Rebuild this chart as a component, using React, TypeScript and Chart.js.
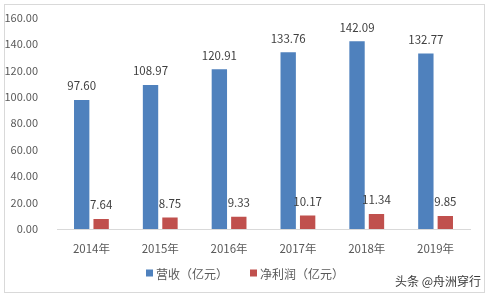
import React, { useEffect, useRef } from "react";
import { Chart, registerables } from "chart.js";

Chart.register(...registerables);

const categories = ["2014年", "2015年", "2016年", "2017年", "2018年", "2019年"];
const revenue = [97.6, 108.97, 120.91, 133.76, 142.09, 132.77];
const profit = [7.64, 8.75, 9.33, 10.17, 11.34, 9.85];
const seriesNames = ["营收（亿元）", "净利润（亿元）"];
const seriesColors = ["#4f81bd", "#c0504d"];
const watermark = "头条 @舟洲穿行";

const FONT = "'Noto Sans CJK SC', 'Noto Sans', sans-serif";

const framePlugin = {
  id: "frame",
  beforeDraw(chart: any) {
    const ctx = chart.ctx;
    ctx.save();
    ctx.fillStyle = "#ffffff";
    ctx.fillRect(0, 0, chart.width, chart.height);
    ctx.strokeStyle = "#d9d9d9";
    ctx.lineWidth = 1;
    ctx.strokeRect(4.5, 4.5, 480, 288);
    ctx.restore();
  },
};

const labelsPlugin = {
  id: "labelsAndLegend",
  afterDatasetsDraw(chart: any) {
    const ctx = chart.ctx;
    ctx.save();
    ctx.font = `11.5px ${FONT}`;
    ctx.fillStyle = "#404040";
    ctx.textAlign = "center";
    ctx.textBaseline = "middle";
    chart.data.datasets.forEach((ds: any, di: number) => {
      const meta = chart.getDatasetMeta(di);
      meta.data.forEach((bar: any, i: number) => {
        ctx.fillText(Number(ds.data[i]).toFixed(2), bar.x, bar.y - 14);
      });
    });
    // legend
    ctx.font = `12px ${FONT}`;
    ctx.textAlign = "left";
    const y = 273;
    const box = 7;
    const gap = 3;
    const itemGap = 22;
    const widths = chart.data.datasets.map((ds: any) => box + gap + ctx.measureText(ds.label).width);
    const total = widths.reduce((a: number, b: number) => a + b, 0) + itemGap * (widths.length - 1);
    let x = 245 - total / 2;
    chart.data.datasets.forEach((ds: any, di: number) => {
      ctx.fillStyle = ds.backgroundColor;
      ctx.fillRect(x, y - box / 2, box, box);
      ctx.fillStyle = "#595959";
      ctx.fillText(ds.label, x + box + gap, y + 1);
      x += widths[di] + itemGap;
    });
    // watermark
    ctx.font = `12px ${FONT}`;
    ctx.fillStyle = "#3a3a3a";
    ctx.textAlign = "right";
    ctx.fillText(watermark, 481, 281);
    ctx.restore();
  },
};

export default function App() {
  const ref = useRef<HTMLCanvasElement>(null);
  useEffect(() => {
    document.body.style.margin = "0";
    const chart = new Chart(ref.current as HTMLCanvasElement, {
      type: "bar",
      data: {
        labels: categories,
        datasets: [
          {
            label: seriesNames[0],
            data: revenue,
            backgroundColor: seriesColors[0],
            categoryPercentage: 0.565,
            barPercentage: 0.79,
          },
          {
            label: seriesNames[1],
            data: profit,
            backgroundColor: seriesColors[1],
            categoryPercentage: 0.565,
            barPercentage: 0.79,
          },
        ],
      },
      options: {
        animation: false,
        responsive: false,
        layout: { padding: { top: 17, right: 20, bottom: 0, left: 0 } },
        plugins: { legend: { display: false }, tooltip: { enabled: false } },
        scales: {
          x: {
            grid: { display: false },
            border: { display: true, color: "#d9d9d9", width: 1 },
            ticks: { color: "#595959", font: { family: FONT, size: 11.5 }, padding: 5 },
            afterFit(scale: any) {
              scale.height = 69;
            },
          },
          y: {
            min: 0,
            max: 160,
            grid: { display: false },
            border: { display: false },
            ticks: {
              stepSize: 20,
              color: "#595959",
              font: { family: FONT, size: 11 },
              padding: 11,
              callback: (v: any) => Number(v).toFixed(2),
            },
            afterFit(scale: any) {
              scale.width = 57;
            },
          },
        },
      },
      plugins: [framePlugin, labelsPlugin],
    });
    return () => chart.destroy();
  }, []);
  return (
    <div style={{ width: 490, height: 298 }}>
      <canvas ref={ref} width={490} height={298} style={{ display: "block" }} />
    </div>
  );
}
